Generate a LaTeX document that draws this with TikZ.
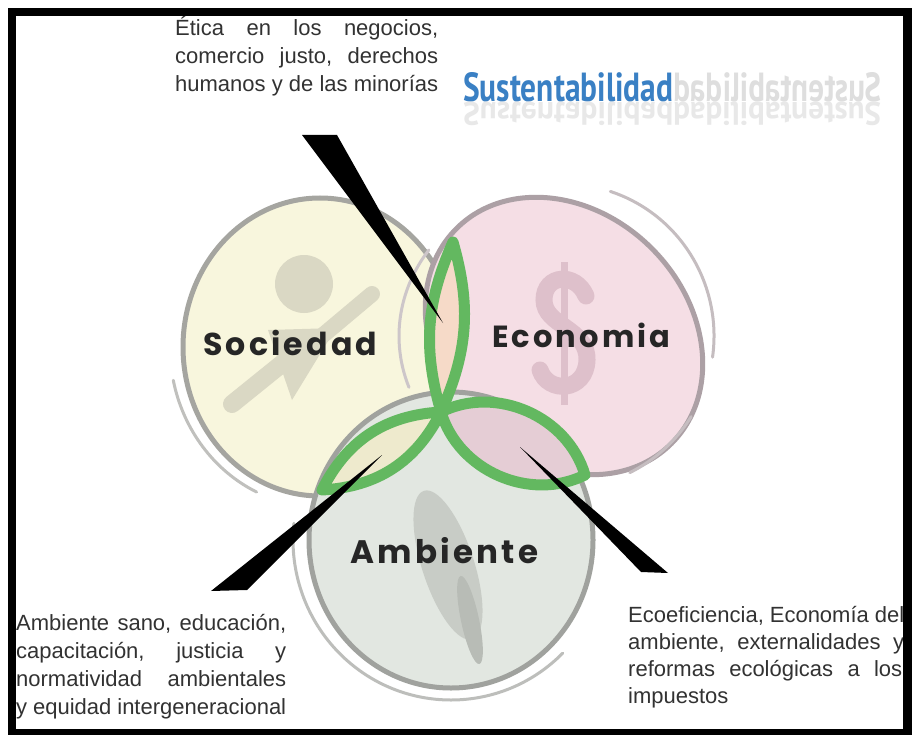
\documentclass[tikz,border=0pt]{standalone}
\usepackage{fontspec}
\setmainfont{Liberation Sans}
\newfontfamily\labelfont[LetterSpace=10]{Poppins}
\newfontfamily\titlefont{PT Sans}
\usetikzlibrary{calc}
\definecolor{socfill}{RGB}{248,246,221}
\definecolor{ecofill}{RGB}{245,222,229}
\definecolor{ambfill}{RGB}{226,231,225}
\definecolor{socring}{RGB}{165,165,160}
\definecolor{ecoring}{RGB}{172,160,165}
\definecolor{ambring}{RGB}{160,162,158}
\definecolor{leafgreen}{RGB}{99,184,96}
\definecolor{lenspeach}{RGB}{246,218,200}
\definecolor{lensyellow}{RGB}{238,234,205}
\definecolor{lenspink}{RGB}{229,205,213}
\definecolor{iconsoc}{RGB}{218,216,196}
\definecolor{iconeco}{RGB}{222,192,203}
\definecolor{iconamb}{RGB}{200,204,198}
\definecolor{bodytext}{RGB}{50,50,50}
\definecolor{sustblue}{RGB}{58,128,196}
\def\ellarc[#1](#2)(#3:#4:#5:#6){\draw[#1] ($(#2)+({#5*cos(#3)},{#6*sin(#3)})$) arc (#3:#4:#5 and #6);}
\def\jline#1#2{\leavevmode\hbox to #1{#2}}

\begin{document}
\begin{tikzpicture}[x=1pt,y=-1pt,
	blob/.style={line width=5pt},
	swoosh/.style={line width=3pt,line cap=round},
	lensline/.style={draw=leafgreen,line width=11pt,line join=round},
	textblock/.style={anchor=base west,inner sep=0pt,text=bodytext,align=left,font=\fontsize{22}{28}\selectfont},
	circlabel/.style={anchor=base west,inner sep=0pt,text=black!85}]
	%%%%% START %%%%%
	\useasboundingbox (0,0) rectangle (912,735);
	\fill[white] (0,0) rectangle (912,735);
	
	\draw[blob, draw=socring, fill=socfill] (320,347) ellipse [x radius=137, y radius=149];
	\fill[iconsoc] (304,284) circle (29);
	\fill[iconsoc] (268,330) -- (336,328) -- (292,400) -- cycle;
	\draw[iconsoc, line width=16pt, line cap=round] (322,336) -- (372,294);
	\draw[iconsoc, line width=18pt, line cap=round] (232,404) -- (284,362);
	\ellarc[swoosh, draw=socring!70](320,347)(115:168:150:160)
	
	\draw[blob, draw=ecoring, fill=ecofill, shift={(564,336)}, rotate=-45] (0,0) ellipse [x radius=152, y radius=124];
	\draw[iconeco, line width=17pt, line cap=round] (586,296) .. controls (576,272) and (544,274) .. (544,300) .. controls (544,326) and (588,328) .. (587,360) .. controls (586,392) and (548,394) .. (540,370);
	\draw[iconeco, line width=7pt] (564,262) -- (564,405);
	\ellarc[swoosh, draw=ecoring!70](564,336)(-72:8:150:152)
	\ellarc[swoosh, draw=ecoring!70](564,336)(32:64:150:152)
	\ellarc[swoosh, draw=ecoring!60](564,336)(160:215:165:150)
	
	\draw[blob, draw=ambring, fill=ambfill] (451,540) ellipse [x radius=142, y radius=148];
	\fill[iconamb, rotate around={18:(448,565)}] (448,565) ellipse [x radius=26, y radius=78];
	\fill[iconamb!92!black, rotate around={12:(470,620)}] (470,620) ellipse [x radius=9, y radius=45];
	\ellarc[swoosh, draw=ambring!70](451,540)(45:186:158:160)
	
	\filldraw[lensline, fill=lensyellow] (441,412) to[bend left=30] (322,490) to[bend left=30] (441,412) -- cycle;
	\filldraw[lensline, fill=lenspink] (441,412) to[bend left=50] (585,475) to[bend left=50] (441,412) -- cycle;
	\filldraw[lensline, fill=lenspeach] (441,412) to[bend left=20] (453,242) to[bend left=20] (441,412) -- cycle;
	
	\node[circlabel] (soc) at (203,355) {\resizebox{174pt}{!}{\labelfont\bfseries Sociedad}};
	\node[circlabel] (eco) at (492,347) {\resizebox{178pt}{!}{\labelfont\bfseries Economia}};
	\node[circlabel] (amb) at (350,563) {\resizebox{188pt}{!}{\labelfont\bfseries Ambiente}};
	
	\coordinate (topA) at (302,135);
	\coordinate (topB) at (337,135);
	\coordinate (toptip) at (443,323);
	\coordinate (blA) at (211,591);
	\coordinate (blB) at (247,590);
	\coordinate (bltip) at (382,455);
	\coordinate (brA) at (641,572);
	\coordinate (brB) at (668,573);
	\coordinate (brtip) at (520,447);
	\fill (topA) -- (topB) -- (toptip) -- cycle;
	\fill (blA) -- (blB) -- (bltip) -- cycle;
	\fill (brA) -- (brB) -- (brtip) -- cycle;
	
	\node[anchor=base west, inner sep=0pt, text=sustblue] (sust) at (463,102) {\resizebox{210pt}{29pt}{\titlefont\bfseries Sustentabilidad}};
	\node[anchor=base west, inner sep=0pt, text=black!13] (sustmirror) at (sust.base east) {\scalebox{-1}[1]{\resizebox{208pt}{29pt}{\titlefont\bfseries Sustentabilidad}}};
	\node[anchor=north west, inner sep=0pt, text=black!9] (sustrefl) at (sust.base west) {\scalebox{1}[-0.8]{\resizebox{210pt}{29pt}{\titlefont\bfseries Sustentabilidad}\scalebox{-1}[1]{\resizebox{208pt}{29pt}{\titlefont\bfseries Sustentabilidad}}}};
	
	\node[textblock, text width=263pt] (etica) at (175,36) {\jline{263pt}{Ética\hfill en\hfill los\hfill negocios,}\\\jline{263pt}{comercio\hfill justo,\hfill derechos}\\\jline{263pt}{humanos\hfill y\hfill de\hfill las\hfill minorías}};
	\node[textblock, text width=270pt] (sano) at (16,630) {\jline{270pt}{Ambiente\hfill sano,\hfill educación,}\\\jline{270pt}{capacitación,\hfill justicia\hfill y}\\\jline{270pt}{normatividad\hfill ambientales}\\\jline{270pt}{y\hfill equidad\hfill intergeneracional}};
	\node[textblock, text width=276pt, font=\fontsize{22}{27}\selectfont] (ecoef) at (628,622) {\jline{276pt}{Ecoeficiencia,\hfill Economía\hfill del}\\\jline{276pt}{ambiente,\hfill externalidades\hfill y}\\\jline{274pt}{reformas\hfill ecológicas\hfill a\hfill los}\\impuestos};
	
	\draw[line width=8.5pt] (12,12) rectangle (907.5,733.5);
	%%%%% END %%%%%
\end{tikzpicture}
\end{document}
